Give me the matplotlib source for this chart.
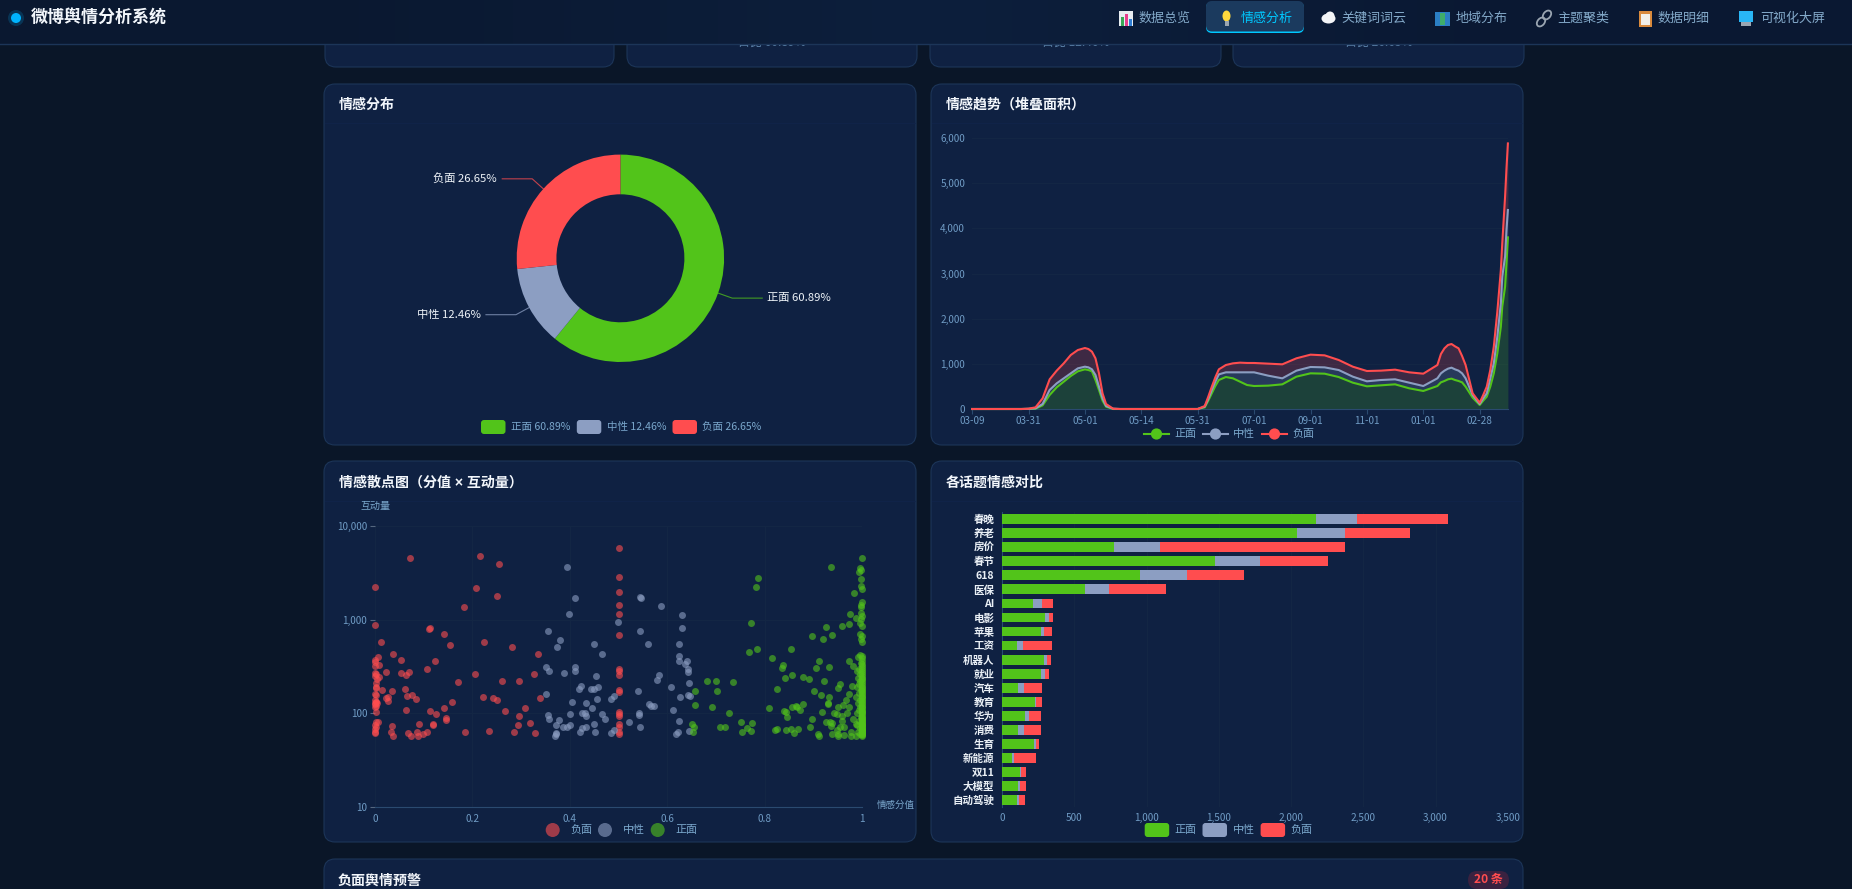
import numpy as np
from matplotlib import pyplot as plt
from matplotlib.patches import Circle, Ellipse, FancyBboxPatch, Rectangle
from matplotlib.ticker import FixedLocator, FuncFormatter, NullLocator

plt.rcParams['font.family'] = ['Noto Sans CJK SC', 'DejaVu Sans']

W, H = 1852, 889

# colours
BG = '#0a1628'
PANEL = '#0f2142'
BORDER = '#1c3558'
GRID = '#142745'
AXIS = '#2a4a70'
TICK = '#6f9bc4'
WHITE = '#f2f6fb'
POS = '#52c41a'
NEU = '#8c9ec2'
NEG = '#ff4d4f'

# donut
sent_names = ['正面', '中性', '负面']
sent_share = [60.89, 12.46, 26.65]

# stacked trend, x in units of the labelled ticks
trend_labels = ['03-09', '03-31', '05-01', '05-14', '05-31', '07-01', '09-01', '11-01', '01-01', '02-28']
trend_x = [0, 0.875, 1, 1.125, 1.25, 1.375, 1.5, 1.625, 1.75, 1.875, 2, 2.0625, 2.125, 2.1875, 2.25, 2.3125, 2.375, 2.5, 2.625,
           3.875, 4, 4.125, 4.1875, 4.25, 4.3125, 4.375, 4.5, 4.625, 4.75, 4.875, 5, 5.25, 5.5, 5.75, 6, 6.25, 6.5, 6.75, 7,
           7.25, 7.5, 7.75, 8, 8.25, 8.3125, 8.375, 8.4375, 8.5, 8.5625, 8.625, 8.6875, 8.75, 8.875, 9, 9.0625, 9.125,
           9.1875, 9.25, 9.3125, 9.375, 9.4, 9.45, 9.475, 9.5]
trend_pos = [0, 0, 2, 7, 81, 310, 480, 605, 731, 834, 878, 863, 834, 642, 421, 185, 52, 0, 0,
             0, 0, 37, 185, 347, 509, 642, 708, 679, 605, 531, 509, 517, 546, 716, 790, 782, 708, 583, 502,
             524, 546, 458, 399, 509, 590, 620, 657, 672, 642, 620, 590, 494, 251, 89, 185, 273,
             494, 790, 1232, 1823, 2266, 2708, 3225, 3800]
trend_neu = [0, 0, 2, 8, 30, 111, 88, 74, 59, 66, 59, 59, 44, 111, 73, 51, 14, 7, 0,
             0, 0, 15, 36, 74, 96, 125, 104, 133, 207, 281, 303, 221, 133, 133, 140, 140, 155, 133, 111,
             118, 111, 125, 110, 170, 200, 229, 236, 243, 236, 229, 200, 185, 59, 22, 51, 74,
             185, 221, 369, 516, 664, 665, 738, 606]
trend_neg = [0, 0, 3, 22, 125, 236, 281, 332, 406, 406, 413, 406, 391, 369, 296, 111, 45, 0, 0,
             0, 0, 14, 52, 73, 96, 111, 162, 199, 214, 207, 207, 266, 310, 273, 273, 266, 222, 221, 228,
             207, 214, 229, 273, 295, 428, 494, 524, 524, 509, 494, 383, 295, 37, 29, 74, 147,
             184, 369, 554, 738, 738, 1328, 1365, 1474]

# scatter: (score, interactions)
neg_points = [
    (0, 2220), (.071, 4500), (.215, 4780), (.254, 3950), (.207, 2190), (.25, 1770), (.183, 1350), (.001, 870),
    (.111, 800), (.113, 815), (.141, 695), (.012, 580), (.153, 535), (.224, 570), (.282, 512), (.036, 430),
    (.007, 400), (.334, 425), (0, 370), (0, 352), (.053, 367), (.124, 358), (.009, 330), (.001, 320),
    (.107, 298), (.022, 277), (.07, 277), (.053, 267), (.063, 254), (.001, 270), (.003, 265), (0, 248),
    (.009, 245), (.005, 235), (.205, 265), (.326, 260), (.171, 215), (.261, 220), (.296, 220), (.003, 213),
    (.002, 193), (.003, 185), (.014, 178), (.062, 183), (.035, 172), (.001, 160), (.003, 158), (.075, 157),
    (.066, 153), (.085, 144), (.026, 150), (.023, 145), (.026, 135), (.222, 148), (.243, 145), (.251, 139),
    (.158, 134), (.338, 147), (.001, 139), (.003, 134), (0, 130), (.005, 128), (.001, 125), (.002, 120),
    (0, 116), (.003, 132), (.002, 104), (.141, 114), (.063, 108), (.113, 105), (.267, 107), (.308, 113),
    (.126, 98), (.295, 95), (.145, 89), (.146, 86), (.09, 77), (.12, 78), (.118, 76), (.293, 76),
    (.318, 80), (.034, 73), (.007, 82), (.002, 81), (.001, 75), (.003, 72), (0, 68), (.001, 64),
    (0, 62), (.033, 64), (.036, 58), (.068, 62), (.073, 58), (.086, 64), (.089, 57), (.099, 61),
    (.107, 64), (.185, 64), (.234, 65), (.285, 64), (.328, 62),
    (.5, 5800), (.5, 2840), (.5, 1950), (.5, 1430), (.5, 1150), (.5, 680), (.5, 300), (.5, 285), (.5, 255),
    (.5, 170), (.5, 178), (.5, 104), (.5, 98), (.5, 94), (.5, 78), (.5, 72), (.5, 64), (.5, 60),
]
neu_points = [
    (.395, 3640), (.41, 1680), (.398, 1150), (.354, 760), (.38, 600), (.373, 510), (.449, 550), (.466, 435),
    (.35, 310), (.358, 285), (.388, 272), (.41, 310), (.41, 280), (.453, 250), (.423, 195), (.419, 183),
    (.443, 180), (.449, 182), (.457, 190), (.351, 162), (.456, 144), (.404, 132), (.432, 130), (.484, 141),
    (.49, 153), (.446, 115), (.401, 99), (.424, 100), (.43, 100), (.432, 95), (.466, 98), (.473, 87),
    (.356, 96), (.358, 88), (.377, 85), (.371, 76), (.401, 76), (.386, 71), (.393, 72), (.424, 70),
    (.434, 72), (.449, 77), (.421, 63), (.451, 64), (.371, 62), (.371, 60), (.369, 58), (.484, 62),
    (.49, 66), (.498, 950), (.544, 1730), (.545, 1710), (.586, 1400), (.631, 1120), (.631, 820), (.544, 750),
    (.56, 550), (.623, 550), (.624, 406), (.624, 360), (.64, 360), (.636, 340), (.643, 295), (.642, 275),
    (.582, 255), (.579, 225), (.644, 210), (.607, 190), (.54, 173), (.625, 148), (.642, 157), (.647, 153),
    (.562, 126), (.566, 119), (.573, 120), (.611, 109), (.542, 100), (.542, 96), (.521, 81), (.624, 84),
    (.544, 72), (.617, 61), (.622, 64), (.644, 65),
]
pos_points = [
    (1, 4500), (.936, 3640), (.996, 3560), (.997, 3350), (.994, 3230), (.785, 2800), (.781, 2220), (.997, 2700),
    (.997, 2260), (.999, 2130), (.983, 1940), (.999, 1550), (.997, 1430), (.998, 1370), (.974, 1160), (.997, 1170),
    (.999, 1100), (.988, 1030), (.998, 1020), (.995, 910), (.999, 860), (.772, 930), (.925, 840), (.958, 860),
    (.972, 895), (.896, 665), (.919, 620), (.938, 685), (.995, 700), (.999, 670), (.998, 615), (.999, 580),
    (.767, 455), (.783, 490), (.854, 480), (.815, 385), (.912, 365), (.837, 325), (.836, 305), (.906, 305),
    (.932, 310), (.973, 365), (.98, 320), (.842, 240), (.855, 258), (.878, 247), (.891, 230), (.922, 220),
    (.681, 222), (.7, 222), (.735, 218), (.657, 172), (.702, 174), (.824, 180), (.9, 172), (.951, 188),
    (.955, 208), (.915, 158), (.932, 150), (.93, 130), (.93, 125), (.973, 162), (.979, 197), (.657, 122),
    (.692, 117), (.808, 113), (.839, 107), (.843, 103), (.856, 117), (.863, 120), (.867, 117), (.873, 109),
    (.878, 125), (.726, 100), (.917, 103), (.95, 117), (.961, 122), (.972, 117), (.967, 140), (.942, 100),
    (.948, 98), (.958, 93), (.969, 100), (.845, 91), (.897, 88), (.752, 82), (.774, 80), (.925, 82),
    (.934, 81), (.935, 73), (.938, 80), (.958, 84), (.65, 78), (.655, 71), (.653, 64), (.709, 71),
    (.718, 72), (.763, 70), (.753, 64), (.772, 65), (.82, 66), (.824, 68), (.843, 66), (.853, 68),
    (.86, 62), (.868, 68), (.893, 71), (.91, 61), (.911, 58), (.937, 61), (.95, 60), (.951, 58),
    (.962, 59), (.949, 67), (.954, 71), (.962, 71), (.977, 63), (.98, 88), (.988, 78), (.977, 58), (.987, 58),
]
# the solid column at score 1
pos_column = [58, 59, 60, 61, 62, 63, 64, 65, 66, 67, 68, 69, 70, 72, 73, 75, 76, 78, 80, 82, 84, 86, 88, 90,
              92, 95, 98, 100, 103, 106, 110, 113, 117, 120, 125, 130, 135, 140, 145, 150, 155, 160, 166, 172,
              178, 185, 192, 200, 210, 220, 230, 240, 250, 262, 275, 290, 305, 320, 340, 360, 385, 410]
pos_near = [(.995, 60), (.992, 64), (.996, 70), (.99, 76), (.994, 84), (.997, 92), (.989, 100), (.993, 108),
            (.996, 116), (.991, 128), (.995, 140), (.988, 150), (.993, 164), (.997, 176), (.99, 190), (.994, 205),
            (.996, 222), (.992, 240), (.995, 262), (.99, 285), (.994, 300), (.997, 345), (.992, 395), (.995, 420)]

# topics, bars
topic_names = ['春晚', '养老', '房价', '春节', '618', '医保', 'AI', '电影', '苹果', '工资', '机器人', '就业',
               '汽车', '教育', '华为', '消费', '生育', '新能源', '双11', '大模型', '自动驾驶']
topic_pos = [2175, 2042, 778, 1476, 958, 574, 212, 299, 267, 103, 288, 267, 111, 225, 156, 108, 220, 66, 122, 111, 103]
topic_neu = [283, 331, 317, 307, 325, 164, 68, 24, 24, 45, 24, 32, 42, 13, 34, 45, 15, 19, 8, 13, 13]
topic_neg = [629, 447, 1278, 471, 389, 394, 72, 29, 56, 196, 24, 26, 125, 40, 82, 117, 24, 150, 34, 40, 40]

nav_items = ['数据总览', '情感分析', '关键词词云', '地域分布', '主题聚类', '数据明细', '可视化大屏']
card_notes = ['占比 60.89%', '占比 12.46%', '占比 26.65%']

TITLE_FONT = ['Liberation Sans', 'Noto Sans CJK SC']


def px(size):
	return size * 0.72


def axes_px(fig, left, top, right, bottom, zorder=2):
	ax = fig.add_axes([left / W, 1 - bottom / H, (right - left) / W, (bottom - top) / H], zorder=zorder)
	ax.patch.set_alpha(0)
	return ax


def canvas(fig, zorder):
	ax = axes_px(fig, 0, 0, W, H, zorder)
	ax.set_xlim(0, W)
	ax.set_ylim(H, 0)
	ax.axis('off')
	return ax


def panel(ax, x0, y0, x1, y1, title=None, tx=None, ty=None, size=14):
	ax.add_patch(FancyBboxPatch((x0, y0), x1 - x0, y1 - y0, boxstyle='round,pad=0,rounding_size=11',
		fc=PANEL, ec=BORDER, lw=0.8, clip_on=True))
	if title:
		ax.text(tx, ty + 1, title, color=WHITE, fontsize=px(size), fontweight='bold', va='center', ha='left',
			family=TITLE_FONT)


def swatch(ax, x0, y0, x1, y1, color):
	ax.add_patch(FancyBboxPatch((x0, y0), x1 - x0, y1 - y0, boxstyle='round,pad=0,rounding_size=3', fc=color, ec='none'))


def small_text(ax, x, y, s, color='#7aa7cc', size=10.5, **kw):
	ax.text(x, y, s, color=color, fontsize=px(size), va='center', ha=kw.pop('ha', 'left'), **kw)


def style_axis(ax, size=10):
	for side in ax.spines:
		ax.spines[side].set_visible(False)
	ax.tick_params(colors=TICK, labelsize=px(size), length=0)


fig = plt.figure(figsize=(W / 100, H / 100), dpi=100, facecolor=BG)
base = canvas(fig, 0)

# cards cut off by the sticky header
for x0, x1 in [(325, 614), (627, 917), (930, 1221), (1233, 1524)]:
	panel(base, x0, -30, x1, 67)
for cx, note in zip([772, 1075.5, 1378.5], card_notes):
	base.text(cx, 42, note, color='#5f86ad', fontsize=px(12), ha='center', va='center')

panel(base, 324, 84, 916, 445, '情感分布', 339, 104)
panel(base, 931, 84, 1523, 445, '情感趋势（堆叠面积）', 946, 104)
panel(base, 324, 461, 916, 842, '情感散点图（分值 × 互动量）', 339, 482)
panel(base, 931, 461, 1523, 842, '各话题情感对比', 946, 482)
panel(base, 324, 859, 1523, 930, '负面舆情预警', 338, 880)
for y in (123, 501):
	for x0, x1 in [(325, 915), (932, 1522)]:
		base.plot([x0, x1], [y, y], color='#11244a', lw=0.6)

# badge
base.add_patch(FancyBboxPatch((1468, 871), 41, 18, boxstyle='round,pad=0,rounding_size=9', fc='#3a2240', ec='none'))
base.text(1488.5, 880, '20 条', color=NEG, fontsize=px(12), fontweight='bold', ha='center', va='center')

# donut
R = 103.7
ax = axes_px(fig, 620.4 - R, 258.3 - R, 620.4 + R, 258.3 + R)
ax.pie(sent_share, colors=[POS, NEU, NEG], startangle=90, counterclock=False, radius=1,
	wedgeprops=dict(width=1 - 64 / R, linewidth=0))
ax.set_xlim(-1, 1)
ax.set_ylim(-1, 1)
before = 0
for name, share, color in zip(sent_names, sent_share, [POS, NEU, NEG]):
	mid = np.radians(90 - (before + share / 2) * 3.6)
	before += share
	x, y = np.cos(mid), np.sin(mid)
	side = 1 if x > 0 else -1
	x2, y2 = x * (R + 15) / R, y * (R + 15) / R
	x3 = x2 + side * 30 / R
	ax.plot([x, x2, x3], [y, y2, y2], color=color, lw=0.8, alpha=0.75, clip_on=False)
	ax.text(x3 + side * 5 / R, y2, f'{name} {share}%', color='#eef3f8', fontsize=px(11.3), fontweight='medium',
		ha='left' if side > 0 else 'right', va='center', clip_on=False)

for x0, tx, color, name, share in zip([481, 576.8, 672.5], [510.6, 607, 702], [POS, NEU, NEG], sent_names, sent_share):
	swatch(base, x0, 420, x0 + 24.5, 434, color)
	small_text(base, tx, 427, f'{name} {share}%')

# stacked trend
ax = axes_px(fig, 972.1, 138, 1507.9, 409)
low = np.zeros(len(trend_x))
for vals, color, alpha in [(trend_pos, POS, 0.2), (trend_neu, NEU, 0.2), (trend_neg, NEG, 0.2)]:
	top = low + np.array(vals)
	ax.fill_between(trend_x, low, top, color=color, alpha=alpha, lw=0)
	ax.plot(trend_x, top, color=color, lw=1.5, solid_joinstyle='round', clip_on=False, zorder=3)
	low = top
ax.set_xlim(0, 9.5)
ax.set_ylim(0, 6000)
style_axis(ax)
ax.set_xticks(range(len(trend_labels)))
ax.set_xticklabels(trend_labels)
ax.set_yticks(range(0, 6001, 1000))
ax.yaxis.set_major_formatter(FuncFormatter(lambda v, p: f'{int(v):,}'))
ax.grid(axis='y', color=GRID, lw=0.7)
ax.set_axisbelow(True)
ax.spines['bottom'].set_visible(True)
ax.spines['bottom'].set_color(AXIS)
ax.tick_params(axis='x', length=3.5, color=AXIS, pad=1.5)
ax.tick_params(axis='y', pad=5)

for x0, tx, color, name in zip([1144, 1203, 1262], [1174, 1233, 1292], [POS, NEU, NEG], sent_names):
	base.plot([x0, x0 + 25], [434, 434], color=color, lw=1.5)
	base.add_patch(Circle((x0 + 12.5, 434), 5.6, fc=color, ec='none', zorder=3))
	small_text(base, tx, 434, name, size=11)

# scatter
ax = axes_px(fig, 375, 525.7, 862.3, 807.3)
for points, color in [(neg_points, NEG), (neu_points, NEU), (pos_points, POS), (pos_near, POS)]:
	score, count = np.array(points).T
	ax.scatter(score, count, s=25, color=color, alpha=0.6, lw=0, clip_on=False, zorder=3)
ax.scatter(np.ones(len(pos_column)), pos_column, s=25, color=POS, alpha=0.6, lw=0, clip_on=False, zorder=3)
ax.set_yscale('log')
ax.set_xlim(0, 1)
ax.set_ylim(10, 10000)
style_axis(ax)
ax.set_xticks([0, 0.2, 0.4, 0.6, 0.8, 1])
ax.set_xticklabels(['0', '0.2', '0.4', '0.6', '0.8', '1'])
ax.yaxis.set_major_locator(FixedLocator([10, 100, 1000, 10000]))
ax.yaxis.set_minor_locator(NullLocator())
ax.yaxis.set_major_formatter(FuncFormatter(lambda v, p: f'{int(v):,}'))
ax.grid(True, color=GRID, lw=0.7)
ax.set_axisbelow(True)
ax.spines['bottom'].set_visible(True)
ax.spines['bottom'].set_color(AXIS)
ax.tick_params(axis='y', length=3.6, color='#55677f', pad=2)
ax.tick_params(axis='x', pad=4.5)
small_text(base, 375, 506, '互动量', size=10, ha='center')
small_text(base, 895.5, 805, '情感分值', size=9.5, ha='center')

for cx, tx, color, name in zip([552.7, 605, 657.7], [570, 623, 675], [NEG, NEU, POS], ['负面', '中性', '正面']):
	base.add_patch(Circle((cx, 830), 7, fc=color, ec='none', alpha=0.6))
	small_text(base, tx, 830, name, size=11)

# topic bars
ax = axes_px(fig, 1002, 512, 1507.9, 807.3)
rows = np.arange(len(topic_names))
left = np.zeros(len(rows))
for vals, color in [(topic_pos, POS), (topic_neu, NEU), (topic_neg, NEG)]:
	ax.barh(rows, vals, left=left, height=0.69, color=color, lw=0, zorder=3)
	left += np.array(vals)
ax.set_xlim(0, 3500)
ax.set_ylim(len(rows) - 0.5, -0.5)
style_axis(ax)
ax.set_yticks(rows)
ax.set_yticklabels(topic_names, color='#eaf0f6', fontsize=px(10.5), fontweight='bold')
ax.set_xticks(range(0, 3501, 500))
ax.xaxis.set_major_formatter(FuncFormatter(lambda v, p: f'{int(v):,}'))
ax.grid(axis='x', color=GRID, lw=0.7)
ax.set_axisbelow(True)
ax.spines['left'].set_visible(True)
ax.spines['left'].set_color(AXIS)
ax.tick_params(axis='y', pad=5.5)
ax.tick_params(axis='x', pad=4)

for x0, tx, color, name in zip([1144.7, 1202.5, 1260.6], [1174, 1233, 1290.5], [POS, NEU, NEG], sent_names):
	swatch(base, x0, 823, x0 + 24.5, 837, color)
	small_text(base, tx, 830, name, size=11)

# header, above the cards
top = canvas(fig, 5)
top.imshow(np.array([[[10, 24, 48], [13, 31, 60], [10, 24, 50]]], dtype=np.uint8), extent=(0, W, 44, 0),
	aspect='auto', interpolation='bilinear', zorder=0)
top.set_xlim(0, W)
top.set_ylim(H, 0)
top.plot([0, W], [44, 44], color=BORDER, lw=1)
top.add_patch(Circle((16, 18), 8, fc='#00b4ff', ec='none', alpha=0.18))
top.add_patch(Circle((16, 18), 5, fc='#00b4ff', ec='none'))
top.text(30.5, 18, '微博舆情分析系统', color=WHITE, fontsize=px(17), fontweight='bold', va='center')

top.add_patch(FancyBboxPatch((1206, 2), 98, 31, boxstyle='round,pad=0,rounding_size=6', fc='#00c8ff', ec='none'))
top.add_patch(FancyBboxPatch((1206, 1), 98, 30.5, boxstyle='round,pad=0,rounding_size=6', fc='#1b3a5e', ec='none'))
for tx, name in zip([1139, 1241, 1341, 1456, 1557, 1658, 1760], nav_items):
	top.text(tx, 18.7, name, color='#00c8ff' if name == '情感分析' else '#83a9c9', fontsize=px(13), va='center')

# nav icons
top.add_patch(Rectangle((1119, 11), 14, 15, fc='#e8edf2', ec='none'))
top.add_patch(Rectangle((1121, 17), 3, 9, fc='#3aa655', ec='none'))
top.add_patch(Rectangle((1125, 14), 3, 12, fc='#e83e8c', ec='none'))
top.add_patch(Rectangle((1129, 19), 3, 7, fc='#2f7fd6', ec='none'))
top.add_patch(Ellipse((1226.5, 16), 8, 11, fc='#ffd83d', ec='none'))
top.add_patch(Rectangle((1224.5, 21), 4, 5, fc='#9aa5b1', ec='none'))
top.add_patch(Ellipse((1328.5, 18.5), 14, 10, fc='#f4f5f8', ec='none'))
top.add_patch(Circle((1330, 16), 4.5, fc='#f4f5f8', ec='none'))
top.add_patch(Rectangle((1435, 12), 15, 14, fc='#2b7fc4', ec='none'))
top.add_patch(Rectangle((1440, 13), 5, 12, fc='#3fae6a', ec='none'))
top.add_patch(Ellipse((1541, 22), 7, 10, angle=40, fc='none', ec='#9aa5b1', lw=1.3))
top.add_patch(Ellipse((1547, 15), 7, 10, angle=40, fc='none', ec='#9aa5b1', lw=1.3))
top.add_patch(Rectangle((1639, 11), 13, 16, fc='#d98a3d', ec='none'))
top.add_patch(Rectangle((1641, 14), 9, 11, fc='#f1efe9', ec='none'))
top.add_patch(Rectangle((1739, 11), 14, 11, fc='#29b6f6', ec='none'))
top.add_patch(Rectangle((1741, 22), 10, 4, fc='#9aa5b1', ec='none'))

fig.savefig('out.png', dpi=100, facecolor=BG)
